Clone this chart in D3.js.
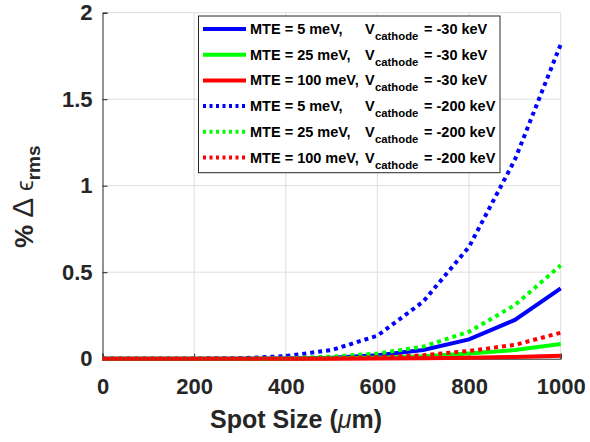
<!DOCTYPE html>
<html><head><meta charset="utf-8">
<script src="https://cdn.jsdelivr.net/npm/d3@7"></script>
<style>body{margin:0;background:#fff}svg{display:block}</style>
</head><body>
<svg id="c" width="590" height="442"></svg>
<script>
const spotSize = [0,100,200,300,400,500,600,700,800,900,1000];
const mte5_30   = [0,0,0,0,0.001,0.005,0.02,0.05,0.112,0.224,0.407];
const mte25_30  = [0,0,0,0,0,0.002,0.006,0.014,0.03,0.05,0.085];
const mte100_30 = [0,0,0,0,0,0,0.001,0.003,0.006,0.01,0.017];
const mte5_200  = [0,0,0,0.002,0.015,0.05,0.133,0.33,0.647,1.15,1.817];
const mte25_200 = [0,0,0,0,0.003,0.012,0.03,0.07,0.156,0.31,0.54];
const mte100_200= [0,0,0,0,0.001,0.003,0.008,0.02,0.045,0.08,0.15];
const xTicks = [0,200,400,600,800,1000];
const yTicks = [0,0.5,1,1.5,2];
const series = [
  {mte:"5", v:"-30", vals:mte5_30, color:"#0000ff", dash:null},
  {mte:"25", v:"-30", vals:mte25_30, color:"#00ff00", dash:null},
  {mte:"100", v:"-30", vals:mte100_30, color:"#ff0000", dash:null},
  {mte:"5", v:"-200", vals:mte5_200, color:"#0000ff", dash:"4,4"},
  {mte:"25", v:"-200", vals:mte25_200, color:"#00ff00", dash:"4,4"},
  {mte:"100", v:"-200", vals:mte100_200, color:"#ff0000", dash:"4,4"}
];
const L=102.5, R=560.7, T=12.7, B=358.7;
const svg = d3.select("#c");
const x = d3.scaleLinear().domain([0,1000]).range([L,R]);
const y = d3.scaleLinear().domain([0,2]).range([B,T]);
const ink="#262626", font="'Liberation Sans', Arial, sans-serif";

// grid
svg.append("g").selectAll("line").data(xTicks.slice(1)).join("line")
  .attr("x1",d=>x(d)).attr("x2",d=>x(d)).attr("y1",B).attr("y2",T)
  .attr("stroke","#dedede").attr("stroke-width",1);
svg.append("g").selectAll("line").data(yTicks.slice(1)).join("line")
  .attr("y1",d=>y(d)).attr("y2",d=>y(d)).attr("x1",L).attr("x2",R)
  .attr("stroke","#dedede").attr("stroke-width",1);

// axes
const xa = svg.append("g").attr("transform",`translate(0,${B})`)
  .call(d3.axisBottom(x).tickValues(xTicks).tickSize(-5).tickPadding(20).tickFormat(d3.format("d")));
const ya = svg.append("g").attr("transform",`translate(${L},0)`)
  .call(d3.axisLeft(y).tickValues(yTicks).tickSize(-5).tickPadding(10).tickFormat(d=>String(d)));
[xa,ya].forEach(a=>{
  a.select(".domain").attr("stroke",ink).attr("stroke-width",1);
  a.selectAll(".tick line").attr("stroke",ink);
  a.selectAll("text").attr("fill",ink).attr("font-family",font).attr("font-weight","bold").attr("font-size",22);
});
xa.selectAll("text").attr("dy","0.71em");

// lines
const line = d3.line().x((d,i)=>x(spotSize[i])).y(d=>y(d));
series.forEach(s=>{
  svg.append("path").datum(s.vals).attr("d",line)
    .attr("fill","none").attr("stroke",s.color).attr("stroke-width",4)
    .attr("stroke-dasharray",s.dash);
});

// axis labels
const xl = svg.append("text").attr("x",296).attr("y",428).attr("text-anchor","middle")
  .attr("font-family",font).attr("font-weight","bold").attr("font-size",25).attr("fill",ink);
xl.append("tspan").text("Spot Size (");
xl.append("tspan").attr("font-weight","normal").attr("font-style","italic").text("\u03bc");
xl.append("tspan").text("m)");
const yl = svg.append("text").attr("transform","translate(33,248) rotate(-90)").attr("text-anchor","start")
  .attr("font-family",font).attr("fill",ink);
yl.append("tspan").attr("font-weight","bold").attr("font-size",26).text("% ");
yl.append("tspan").attr("font-weight","normal").attr("font-size",30).text("\u0394 ");
yl.append("tspan").attr("font-weight","normal").attr("font-size",24).text("\u03f5");
yl.append("tspan").attr("font-weight","bold").attr("font-size",19).attr("dy",7).text("rms");

// legend
const lg = svg.append("g");
lg.append("rect").attr("x",198.5).attr("y",16).attr("width",301.5).attr("height",156.7)
  .attr("fill","#fff").attr("stroke",ink).attr("stroke-width",1);
series.forEach((s,i)=>{
  const cy = 29 + i*25.7;
  lg.append("line").attr("x1",203).attr("x2",246).attr("y1",cy).attr("y2",cy)
    .attr("stroke",s.color).attr("stroke-width",4).attr("stroke-dasharray",s.dash?"3,3.5":null);
  const t = (xx,txt,sz,dy)=>lg.append("text").attr("x",xx).attr("y",cy+5+(dy||0))
    .attr("font-family",font).attr("font-weight","bold").attr("font-size",sz).attr("fill","#000").text(txt);
  t(250,`MTE = ${s.mte} meV,`,14.5);
  t(365,"V",14.5);
  t(375,"cathode",11.3,6);
  t(424,`= ${s.v} keV`,14.5);
});
</script>
</body></html>
